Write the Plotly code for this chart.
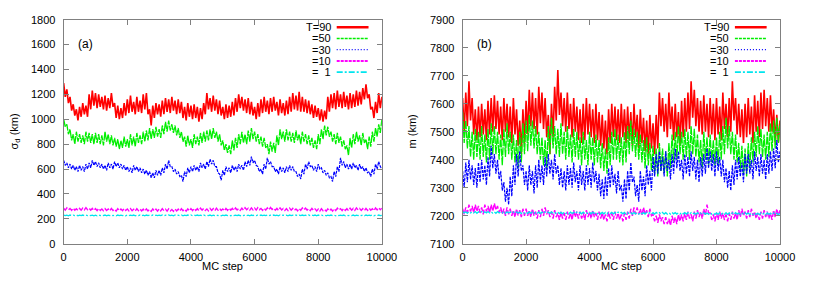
import plotly.graph_objects as go

steps = list(range(0, 10001, 50))

# ---- panel (a): sigma_d (km) ----
a_T90 = [1290,1180,1240,1130,1180,1070,1120,1030,1080,990, 1100,1020,1130,1040,1110,1020,1200,1080,1230,1110,
         1210,1090,1200,1100,1180,1080,1190,1070,1170,1090, 1210,1100,1130,1010,1110,1000,1090,1010,1130,1030,
         1160,1050,1190,1060,1140,1040,1180,1060,1150,1050, 1200,1080,1210,1040,1080,950,1110,1010,1130,1040,
         1120,1020,1150,1040,1170,1060,1160,1050,1180,1070, 1150,1040,1160,1050,1140,1010,1100,990,1130,1020,
         1110,1000,1120,1010,1100,980,1090,1000,1130,1040, 1210,1080,1170,1060,1190,1070,1160,1040,1150,1030,
         1100,1000,1120,1010,1110,1020,1140,1030,1170,1060, 1200,1090,1180,1070,1160,1050,1170,1040,1140,1030,
         1100,1000,1130,1020,1160,1050,1180,1060,1150,1040, 1170,1060,1180,1070,1140,1030,1160,1050,1130,1030,
         1150,1040,1180,1060,1210,1080,1190,1070,1220,1060, 1180,1060,1160,1050,1150,1040,1120,1010,1110,1020,
         1090,990,1080,980,1070,1000,1180,1060,1200,1090, 1210,1080,1230,1100,1200,1090,1220,1100,1190,1080,
         1210,1090,1200,1100,1230,1110,1220,1120,1250,1160, 1280,1170,1200,1080,1100,1010,1140,1050,1210,1090,
         1180]
a_T50 = [1000,940,960,880,920,830,880,800,900,820, 880,810,870,800,900,820,890,810,880,800,
         890,810,880,800,870,790,900,820,880,800, 870,790,850,780,840,760,830,770,860,780,
         840,770,880,790,860,780,890,810,870,800, 900,820,910,830,930,840,920,850,940,860,
         920,850,950,880,980,900,990,910,960,890, 950,870,930,850,900,820,860,780,870,790,
         840,770,880,800,860,790,890,810,900,820, 910,830,920,840,930,850,900,820,880,790,
         830,750,800,730,790,720,830,750,850,770, 880,800,900,810,880,800,910,820,930,840,
         900,820,880,800,860,780,850,770,800,720, 820,740,810,730,870,790,920,840,900,820,
         920,830,900,820,890,810,910,830,880,800, 900,820,880,800,870,790,850,770,830,760,
         880,800,920,840,950,870,940,860,900,820, 880,800,890,810,860,780,830,760,790,710,
         850,770,880,800,900,820,870,790,890,810, 840,760,860,780,900,820,930,860,960,890,
         1000]
a_T30 = [670,630,650,610,640,600,630,590,620,580, 630,590,620,580,640,600,650,610,670,630,
         660,620,650,610,640,600,630,590,650,610, 640,600,660,620,650,610,640,600,630,590,
         620,580,610,570,630,590,620,580,610,570, 600,560,590,550,580,530,570,530,590,550,
         590,550,610,570,640,600,670,620,620,580, 600,560,580,540,550,500,580,540,610,570,
         620,580,630,590,620,580,650,610,640,600, 660,620,680,640,670,620,620,570,560,510,
         590,550,620,580,610,570,630,590,620,580, 640,600,630,590,660,620,670,630,700,650,
         670,630,620,580,600,560,640,600,690,640, 660,620,620,580,600,560,620,580,610,570,
         620,580,630,590,620,580,580,540,560,520, 600,560,640,600,660,620,630,590,620,580,
         640,600,610,570,590,550,570,530,540,500, 580,540,620,580,690,630,660,610,640,600,
         640,600,650,610,630,590,640,600,620,580, 610,570,580,540,600,560,640,600,660,620,
         600]
a_T10 = [285,270,288,272,284,268,286,270,282,268, 284,270,286,272,290,274,286,270,284,268,
         282,266,284,268,280,266,282,268,280,264, 284,268,278,262,282,266,280,266,284,268,
         280,264,282,266,278,262,282,266,280,264, 278,262,280,264,276,260,280,264,278,262,
         280,264,282,266,278,262,280,264,276,260, 280,264,278,262,282,266,278,262,280,264,
         282,266,284,268,282,266,286,270,284,268, 280,264,284,268,282,266,286,270,284,268,
         280,264,284,268,286,270,284,268,288,272, 284,268,286,270,290,274,286,270,288,272,
         286,270,290,274,284,268,286,270,288,272, 292,276,286,270,284,268,288,272,284,268,
         282,266,286,270,284,268,280,264,284,268, 288,272,286,270,282,266,284,268,280,264,
         278,262,282,266,276,262,280,264,278,262, 282,266,286,270,282,266,284,268,282,266,
         286,270,284,268,288,272,284,268,282,266, 284,268,286,270,282,266,288,272,290,274,
         286]
a_T1 = [231,226,230,225,231,226,230,226,231,225, 230,226,231,225,230,226,231,226,230,225,
        230,225,231,226,230,226,231,225,230,226, 231,226,230,225,231,226,230,226,231,225,
        231,226,230,226,231,225,230,226,231,226, 230,225,231,226,230,226,231,225,230,226,
        230,226,231,225,230,226,231,226,230,225, 231,226,230,226,231,225,230,226,231,226,
        231,225,230,226,231,226,230,225,231,226, 230,226,231,225,230,226,231,226,230,225,
        230,226,231,226,230,225,231,226,230,226, 231,225,230,226,231,226,230,225,231,226,
        231,226,230,225,231,226,230,226,231,225, 230,226,231,226,230,225,231,226,230,226,
        230,225,231,226,230,226,231,225,230,226, 231,226,230,225,231,226,230,226,231,225,
        231,226,230,226,231,225,230,226,231,226, 230,225,231,226,230,226,231,225,230,226,
        230,226,231,225,230,226,231,226,230,225, 231,226,230,226,231,225,230,226,231,226,
        229]

# ---- panel (b): m (km) ----
b_T90 = [7620,7500,7640,7520,7680,7540,7620,7490,7580,7470, 7590,7480,7600,7490,7580,7470,7610,7490,7620,7500,
         7630,7510,7610,7490,7590,7470,7620,7500,7600,7480, 7590,7460,7620,7490,7580,7450,7540,7420,7580,7460,
         7610,7490,7650,7520,7640,7510,7620,7490,7660,7530, 7640,7510,7620,7480,7560,7420,7600,7480,7660,7540,
         7720,7560,7640,7520,7620,7500,7640,7510,7600,7480, 7620,7500,7590,7470,7580,7460,7600,7470,7620,7490,
         7600,7480,7580,7460,7600,7470,7570,7450,7560,7440, 7540,7420,7580,7460,7600,7480,7590,7470,7580,7460,
         7600,7480,7580,7460,7590,7470,7570,7450,7600,7480, 7560,7440,7580,7460,7550,7430,7540,7420,7560,7440,
         7530,7420,7560,7440,7640,7520,7620,7500,7600,7480, 7640,7510,7590,7470,7600,7480,7570,7450,7610,7480,
         7620,7500,7640,7510,7680,7550,7650,7520,7620,7500, 7610,7490,7630,7500,7600,7480,7620,7490,7600,7470,
         7620,7490,7590,7470,7640,7510,7600,7480,7620,7500, 7680,7540,7620,7490,7600,7480,7580,7460,7600,7480,
         7620,7490,7590,7460,7630,7500,7610,7480,7640,7510, 7650,7520,7620,7500,7630,7500,7580,7460,7560,7460,
         7540]
b_T50 = [7570,7460,7540,7440,7520,7410,7500,7400,7510,7410, 7500,7400,7520,7410,7490,7390,7510,7400,7530,7420,
         7520,7420,7500,7400,7490,7380,7510,7410,7530,7420, 7500,7400,7490,7390,7470,7370,7500,7390,7530,7420,
         7540,7430,7560,7450,7540,7440,7520,7420,7500,7400, 7480,7380,7470,7370,7520,7420,7550,7440,7520,7420,
         7510,7410,7530,7420,7500,7400,7520,7410,7490,7390, 7510,7410,7500,7400,7480,7380,7500,7400,7470,7380,
         7500,7400,7480,7380,7490,7390,7470,7370,7460,7360, 7440,7350,7480,7380,7500,7400,7510,7400,7490,7390,
         7480,7380,7500,7390,7520,7420,7540,7430,7510,7410, 7500,7400,7490,7390,7470,7370,7480,7380,7460,7360,
         7450,7350,7440,7340,7460,7360,7440,7350,7430,7340, 7460,7370,7490,7390,7500,7400,7520,7420,7500,7400,
         7510,7410,7500,7400,7520,7420,7510,7410,7490,7390, 7470,7370,7500,7400,7480,7380,7490,7390,7470,7380,
         7480,7380,7500,7400,7520,7420,7550,7440,7520,7420, 7500,7400,7490,7390,7460,7360,7450,7350,7440,7340,
         7460,7370,7480,7390,7500,7410,7520,7420,7510,7410, 7490,7400,7500,7410,7530,7430,7540,7440,7550,7460,
         7530]
b_T30 = [7360,7300,7390,7320,7400,7330,7380,7310,7370,7300, 7390,7320,7400,7330,7380,7310,7410,7340,7450,7370,
         7420,7350,7400,7330,7360,7290,7320,7250,7300,7240, 7340,7270,7380,7310,7420,7340,7430,7360,7380,7310,
         7360,7290,7380,7310,7360,7280,7380,7300,7400,7320, 7380,7310,7410,7340,7420,7350,7400,7330,7420,7350,
         7380,7310,7370,7300,7360,7290,7380,7310,7370,7300, 7390,7320,7360,7290,7380,7310,7360,7290,7380,7310,
         7370,7300,7390,7320,7360,7290,7350,7270,7330,7260, 7340,7270,7370,7300,7380,7310,7350,7280,7360,7290,
         7310,7250,7330,7260,7360,7290,7390,7320,7340,7270, 7310,7250,7360,7290,7340,7270,7380,7310,7360,7290,
         7410,7340,7420,7350,7430,7360,7410,7340,7430,7360, 7400,7330,7420,7350,7440,7370,7430,7360,7400,7330,
         7420,7350,7410,7340,7430,7360,7410,7330,7400,7320, 7410,7340,7420,7350,7440,7370,7430,7360,7420,7340,
         7430,7360,7410,7340,7400,7320,7370,7300,7360,7290, 7380,7310,7400,7330,7410,7340,7390,7320,7420,7350,
         7420,7350,7400,7330,7430,7360,7410,7340,7420,7350, 7400,7330,7420,7350,7430,7360,7440,7370,7470,7390,
         7430]
b_T10 = [7225,7205,7230,7210,7240,7215,7235,7210,7240,7215, 7235,7210,7230,7205,7240,7215,7235,7210,7240,7215,
         7245,7220,7235,7210,7230,7205,7225,7200,7230,7205, 7225,7200,7220,7195,7225,7200,7220,7195,7225,7200,
         7225,7200,7220,7195,7225,7200,7215,7190,7220,7195, 7225,7200,7230,7205,7220,7195,7215,7190,7220,7195,
         7210,7185,7215,7190,7210,7185,7215,7190,7210,7185, 7220,7195,7215,7190,7215,7190,7210,7185,7220,7195,
         7215,7190,7220,7195,7210,7185,7215,7190,7210,7185, 7205,7180,7215,7190,7210,7185,7215,7190,7210,7185,
         7205,7180,7210,7185,7215,7190,7225,7200,7230,7205, 7230,7205,7225,7200,7230,7205,7220,7195,7225,7200,
         7205,7180,7200,7175,7205,7180,7195,7170,7195,7170, 7190,7165,7200,7175,7195,7170,7205,7180,7205,7180,
         7210,7185,7215,7190,7205,7180,7215,7190,7220,7195, 7215,7190,7225,7200,7240,7210,7210,7185,7205,7180,
         7210,7185,7215,7190,7210,7185,7205,7180,7210,7185, 7215,7190,7210,7185,7220,7195,7225,7200,7215,7190,
         7220,7195,7225,7200,7215,7190,7210,7185,7215,7190, 7220,7195,7215,7190,7210,7185,7220,7195,7225,7200,
         7220]
b_T1 = [7215,7210,7214,7209,7215,7210,7214,7210,7215,7209, 7214,7210,7215,7209,7214,7210,7215,7210,7214,7209,
        7214,7209,7215,7210,7214,7210,7215,7209,7214,7210, 7214,7209,7213,7209,7214,7209,7213,7208,7214,7209,
        7213,7208,7214,7209,7213,7208,7214,7209,7213,7208, 7213,7208,7214,7209,7213,7208,7214,7209,7213,7208,
        7213,7208,7212,7207,7213,7208,7212,7207,7213,7208, 7212,7207,7213,7208,7212,7207,7213,7208,7212,7207,
        7212,7207,7213,7208,7212,7207,7213,7207,7212,7207, 7212,7207,7213,7208,7212,7207,7212,7207,7213,7208,
        7212,7207,7212,7206,7212,7207,7211,7206,7212,7207, 7211,7206,7212,7207,7211,7206,7212,7207,7211,7206,
        7211,7206,7212,7207,7211,7206,7212,7206,7211,7206, 7211,7206,7212,7207,7211,7206,7211,7206,7212,7207,
        7211,7206,7211,7205,7211,7206,7210,7205,7211,7206, 7210,7205,7211,7206,7210,7205,7211,7206,7210,7205,
        7210,7205,7211,7206,7210,7205,7211,7205,7210,7205, 7210,7205,7211,7206,7210,7205,7210,7205,7211,7206,
        7210,7205,7210,7204,7210,7205,7209,7204,7210,7205, 7209,7204,7210,7205,7209,7204,7210,7205,7209,7204,
        7208]

legend_labels = ["T=90", "=50", "=30", "=10", "=  1"]
x_ticks = [0, 2000, 4000, 6000, 8000, 10000]
x_ticktext = ["0", "2000", "4000", "6000", "8000", "10000"]
a_ticks = [0, 200, 400, 600, 800, 1000, 1200, 1400, 1600, 1800]
b_ticks = [7100, 7200, 7300, 7400, 7500, 7600, 7700, 7800, 7900]

colors = ["#ff0000", "#00ee00", "#0000ff", "#ff00ff", "#00e5ee"]
widths = [1.6, 1.3, 1.2, 1.4, 1.3]
dashes = ["solid", "8px,1px", "3px,1px", "6px,2px", "8px,2px,2px,2px"]
leg_widths = [2.5, 1.3, 1.3, 2.0, 1.6]
leg_dashes = ["solid", "3px,1px", "1px,2px", "3px,1px", "6px,2px,2px,2px"]

fig = go.Figure()
a_series = [a_T90, a_T50, a_T30, a_T10, a_T1]
b_series = [b_T90, b_T50, b_T30, b_T10, b_T1]
for i, ys in enumerate(a_series):
    fig.add_trace(go.Scatter(x=steps, y=ys, mode="lines", showlegend=False,
                             line=dict(color=colors[i], width=widths[i], dash=dashes[i]),
                             xaxis="x", yaxis="y"))
for i, ys in enumerate(b_series):
    fig.add_trace(go.Scatter(x=steps, y=ys, mode="lines", showlegend=False,
                             line=dict(color=colors[i], width=widths[i], dash=dashes[i]),
                             xaxis="x2", yaxis="y2"))

axis_common = dict(showline=True, linecolor="#808080", linewidth=1, mirror="allticks",
                   ticks="inside", ticklen=5, tickcolor="#808080", tickwidth=1,
                   showgrid=False, zeroline=False, tickfont=dict(size=11, color="black"))
ydom = [0.129, 0.950]
fig.update_layout(
    width=814, height=285,
    margin=dict(l=0, r=0, t=0, b=0),
    paper_bgcolor="white", plot_bgcolor="white",
    font=dict(family="Liberation Sans, Arial, Helvetica, sans-serif", size=11, color="black"),
    xaxis=dict(domain=[0.0762, 0.4760], range=[0, 10000], tickvals=x_ticks, ticktext=x_ticktext,
               anchor="y", ticklabelstandoff=3, **axis_common),
    yaxis=dict(domain=ydom, range=[0, 1800], tickvals=a_ticks,
               anchor="x", ticklabelstandoff=5, **axis_common),
    xaxis2=dict(domain=[0.5774, 0.9761], range=[0, 10000], tickvals=x_ticks, ticktext=x_ticktext,
                anchor="y2", ticklabelstandoff=3, **axis_common),
    yaxis2=dict(domain=ydom, range=[7100, 7900], tickvals=b_ticks,
                anchor="x2", ticklabelstandoff=5, **axis_common),
)

leg_y = [0.966, 0.916, 0.866, 0.816, 0.766]
shapes = []
annotations = []
for xr, yr, panel in [("x domain", "y domain", "(a)"), ("x2 domain", "y2 domain", "(b)")]:
    for i, lab in enumerate(legend_labels):
        shapes.append(dict(type="line", xref=xr, yref=yr, x0=0.858, x1=0.958,
                           y0=leg_y[i], y1=leg_y[i],
                           line=dict(color=colors[i], width=leg_widths[i], dash=leg_dashes[i])))
        annotations.append(dict(text=lab, xref=xr, yref=yr, x=0.843, y=leg_y[i],
                                xanchor="right", yanchor="middle", showarrow=False,
                                borderpad=0, font=dict(size=11)))
    annotations.append(dict(text=panel, xref=xr, yref=yr, x=0.068, y=0.89,
                            xanchor="center", yanchor="middle", showarrow=False,
                            font=dict(size=12)))

# axis titles
annotations.append(dict(text="MC step", xref="paper", yref="paper", x=(0.0762 + 0.4760) / 2,
                        y=14 / 285, xanchor="center", yanchor="middle", showarrow=False,
                        font=dict(size=11)))
annotations.append(dict(text="MC step", xref="paper", yref="paper", x=(0.5774 + 0.9761) / 2,
                        y=14 / 285, xanchor="center", yanchor="middle", showarrow=False,
                        font=dict(size=11)))
annotations.append(dict(text="σ<sub>d</sub> (km)", xref="paper", yref="paper", x=12 / 814,
                        y=(0.129 + 0.950) / 2, xanchor="center", yanchor="middle",
                        textangle=-90, showarrow=False, font=dict(size=11)))
annotations.append(dict(text="m (km)", xref="paper", yref="paper", x=418 / 814,
                        y=(0.129 + 0.950) / 2, xanchor="center", yanchor="middle",
                        textangle=-90, showarrow=False, font=dict(size=11)))

fig.update_layout(shapes=shapes, annotations=annotations)
fig.write_html("out.html",
               config={"displayModeBar": False, "responsive": False},
               post_script="document.documentElement.style.margin='0';"
                           "document.body.style.margin='0';"
                           "document.body.style.overflow='hidden';")
